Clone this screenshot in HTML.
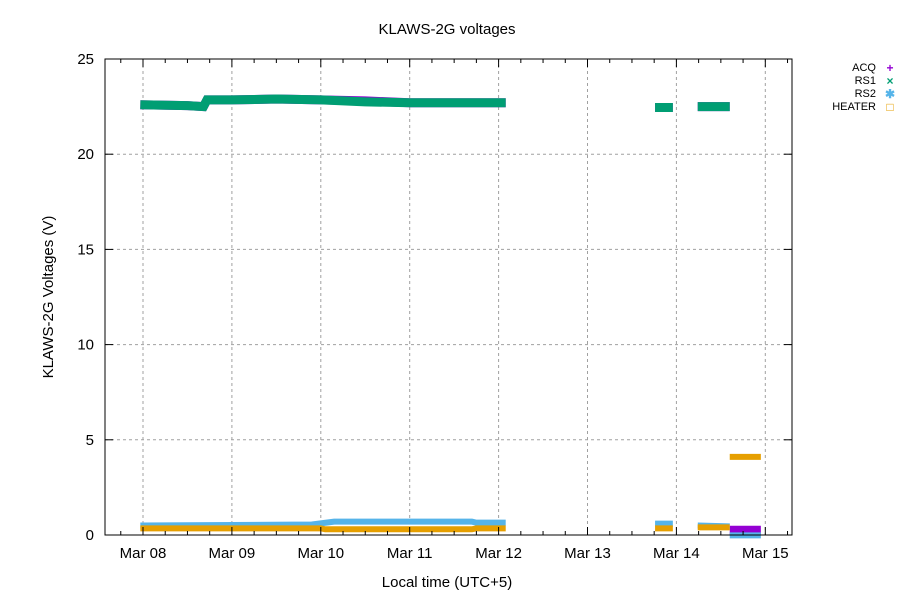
<!DOCTYPE html>
<html><head><meta charset="utf-8"><style>
body{margin:0;background:#fff;}
svg{display:block;font-family:"Liberation Sans",sans-serif;}
</style></head><body>
<svg id="c" width="900" height="600">
<rect width="900" height="600" fill="#fff"/>
<text x="447" y="34" text-anchor="middle" font-size="15">KLAWS-2G voltages</text>
<text x="447" y="587" text-anchor="middle" font-size="15">Local time (UTC+5)</text>
<text transform="translate(53,297) rotate(-90)" text-anchor="middle" font-size="15">KLAWS-2G Voltages (V)</text>
<g id="grid"></g><g id="series"></g><g id="axes"></g><g id="legend"></g>
</svg>
<script>
const xTickLabels=["Mar 08","Mar 09","Mar 10","Mar 11","Mar 12","Mar 13","Mar 14","Mar 15"];
const yTicks=[0,5,10,15,20,25];
// times in days since Mar 08 00:00; null separates gaps
const acqT=[-0.03,0.5,0.68,0.72,1.0,1.5,2.0,2.5,3.0,3.5,4.08,null,5.76,5.96,null,6.24,6.6,null,6.6,6.95];
const acqV=[22.6,22.55,22.5,22.85,22.85,22.9,22.85,22.8,22.7,22.7,22.7,null,22.45,22.45,null,22.5,22.5,null,0.25,0.25];
const rs1T=[-0.03,0.5,0.68,0.72,1.0,1.5,2.0,2.5,3.0,3.5,4.08,null,5.76,5.96,null,6.24,6.6];
const rs1V=[22.6,22.55,22.5,22.85,22.85,22.9,22.85,22.75,22.7,22.7,22.7,null,22.45,22.45,null,22.5,22.5];
const rs2T=[-0.03,1.9,2.15,3.7,3.75,4.08,null,5.76,5.96,null,6.24,6.6,null,6.6,6.95];
const rs2V=[0.5,0.55,0.7,0.7,0.65,0.65,null,0.6,0.6,null,0.5,0.45,null,-0.02,-0.02];
const heatT=[-0.03,2.0,2.05,3.7,3.75,4.08,null,5.76,5.96,null,6.24,6.6,null,6.6,6.95];
const heatV=[0.35,0.35,0.3,0.3,0.35,0.35,null,0.35,0.35,null,0.4,0.4,null,4.1,4.1];

const L=105,R=792,T=59,B=535,x0=143,dayW=88.9;
const X=t=>x0+t*dayW, Y=v=>B-(v/25)*(B-T);
const NS="http://www.w3.org/2000/svg";
function mk(tag,attrs,parent){const e=document.createElementNS(NS,tag);for(const k in attrs)e.setAttribute(k,attrs[k]);parent.appendChild(e);return e;}
const grid=document.getElementById('grid'),axes=document.getElementById('axes'),ser=document.getElementById('series'),leg=document.getElementById('legend');
yTicks.forEach(v=>{
  if(v>0&&v<25){const g=mk('line',{x1:L,x2:R,y1:Y(v),y2:Y(v),stroke:'#a0a0a0','stroke-dasharray':'3,3'},grid);
  
  }
  mk('line',{x1:L,x2:L+8,y1:Y(v),y2:Y(v),stroke:'#000'},axes);
  mk('line',{x1:R,x2:R-8,y1:Y(v),y2:Y(v),stroke:'#000'},axes);
  const t=mk('text',{x:L-11,y:Y(v)+5,'text-anchor':'end','font-size':15},axes);t.textContent=v;
  
  
});
xTickLabels.forEach((s,i)=>{
  const x=X(i);
  const g=mk('line',{x1:x,x2:x,y1:T,y2:B,stroke:'#a0a0a0','stroke-dasharray':'3,3'},grid);
  
  
  mk('line',{x1:x,x2:x,y1:B,y2:B-8,stroke:'#000'},axes);
  mk('line',{x1:x,x2:x,y1:T,y2:T+8,stroke:'#000'},axes);
  const t=mk('text',{x:x,y:B+23,'text-anchor':'middle','font-size':15},axes);t.textContent=s;
  
  
});
for(let q=-1;q<=30;q++){const x=X(q/4);if(x>L&&x<R&&q%4){mk('line',{x1:x,x2:x,y1:B,y2:B-4,stroke:'#000'},axes);mk('line',{x1:x,x2:x,y1:T,y2:T+4,stroke:'#000'},axes);}}
const frame=mk('rect',{x:L,y:T,width:R-L,height:B-T,fill:'none',stroke:'#000'},axes);


function draw(ts,vs,color,w,name){
  let pts=[];
  const flush=()=>{if(pts.length){const p=mk('polyline',{points:pts.join(' '),fill:'none',stroke:color,'stroke-width':w},ser);
    
    }pts=[];};
  ts.forEach((t,i)=>{if(t===null){flush();}else pts.push(X(t)+','+Y(vs[i]));});flush();
}
draw(acqT,acqV,'#9400d3',9,'acq-series');
draw(rs1T,rs1V,'#009e73',9,'rs1-series');
draw(rs2T,rs2V,'#56b4e9',6,'rs2-series');
draw(heatT,heatV,'#e69f00',6,'heater-series');
const items=[["ACQ","#9400d3","+"],["RS1","#009e73","×"],["RS2","#56b4e9","✱"],["HEATER","#e69f00","□"]];
items.forEach((it,i)=>{
  const y=71+i*13;
  const t=mk('text',{x:876,y:y,'text-anchor':'end','font-size':11},leg);t.textContent=it[0];
  
  
  const m=mk('text',{x:890,y:y+1,'text-anchor':'middle','font-size':12,'font-weight':'bold',fill:it[1]},leg);m.textContent=it[2];
  
  
});
</script>
</body></html>
